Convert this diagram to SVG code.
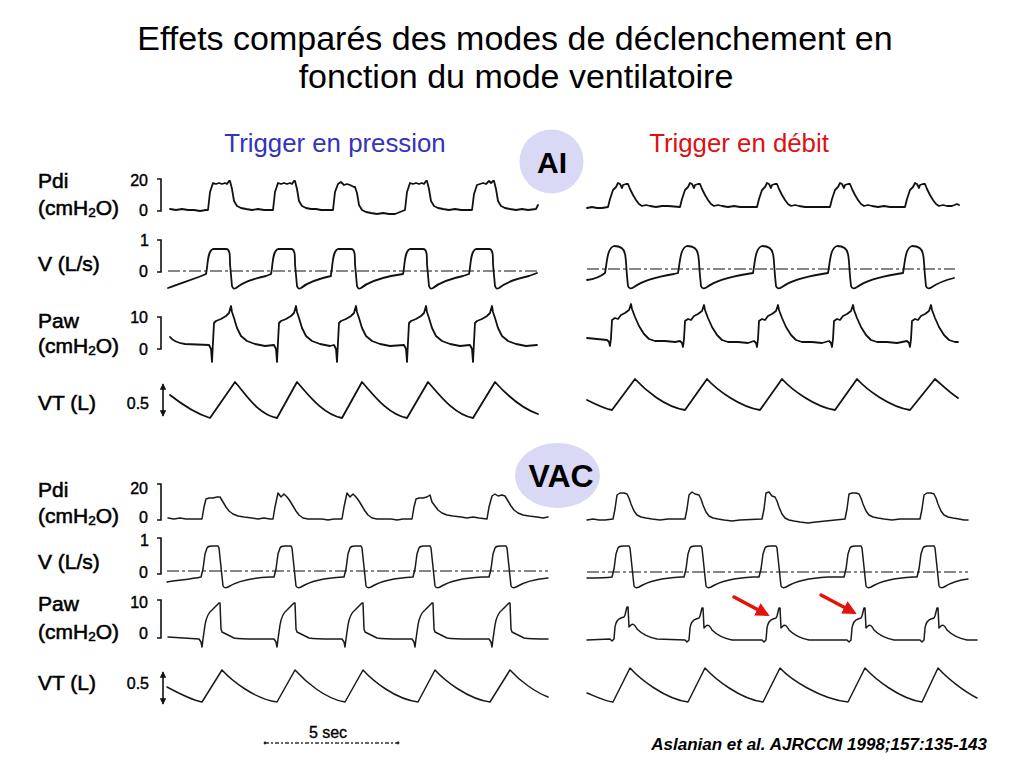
<svg xmlns="http://www.w3.org/2000/svg" width="1024" height="768" viewBox="0 0 1024 768">
<style>
text{font-family:"Liberation Sans",Arial,Helvetica,sans-serif}
.title{font-size:34px;fill:#000;text-anchor:middle}
.hdr{font-size:25.8px;text-anchor:middle}
.lbl{font-size:21px;fill:#000;stroke:#000;stroke-width:0.55}
.sub{font-size:13.5px}
.num{font-size:16px;fill:#000;stroke:#000;stroke-width:0.4;text-anchor:end}
.tr{fill:none;stroke:#111;stroke-width:1.8;stroke-linejoin:round;stroke-linecap:round}
.tr2{fill:none;stroke:#1a1a1a;stroke-width:1.5;stroke-linejoin:round;stroke-linecap:round}
.zl{fill:none;stroke:#111;stroke-width:1.2;stroke-dasharray:12 3 3 3}
.br{fill:none;stroke:#111;stroke-width:1.6}
.badge{fill:#d9d9f6}
.badgeT{font-weight:bold;fill:#000;text-anchor:middle}
</style>
<defs>
<marker id="ah" viewBox="0 0 10 10" refX="9" refY="5" markerWidth="4" markerHeight="4" orient="auto-start-reverse" markerUnits="strokeWidth">
<path d="M0,0 L10,5 L0,10 z" fill="#111"/>
</marker>
<marker id="rah" viewBox="0 0 10 10" refX="7" refY="5" markerWidth="4" markerHeight="4" orient="auto" markerUnits="strokeWidth">
<path d="M0,0 L10,5 L0,10 z" fill="#e3120b"/>
</marker>
</defs>

<g id="title">
<text class="title" x="515" y="50">Effets comparés des modes de déclenchement en</text>
<text class="title" x="516" y="88">fonction du mode ventilatoire</text>
</g>

<g id="headers">
<text class="hdr" x="335" y="152" fill="#3333bb">Trigger en pression</text>
<text class="hdr" x="739" y="152" fill="#dd1111">Trigger en débit</text>
</g>

<g id="labels-ai">
<text class="lbl" x="38" y="188">Pdi</text>
<text class="lbl" x="38" y="215">(cmH<tspan class="sub" dy="2">2</tspan><tspan dy="-2">O)</tspan></text>
<text class="num" x="148" y="186">20</text>
<text class="num" x="148" y="216">0</text>
<path class="br" d="M157,179 h4 v32 h-4"/>
<text class="lbl" x="38" y="271">V (L/s)</text>
<text class="num" x="149" y="246">1</text>
<text class="num" x="148" y="277">0</text>
<path class="br" d="M157,240 h4 v32 h-4"/>
<text class="lbl" x="38" y="328">Paw</text>
<text class="lbl" x="38" y="353">(cmH<tspan class="sub" dy="2">2</tspan><tspan dy="-2">O)</tspan></text>
<text class="num" x="148" y="323">10</text>
<text class="num" x="148" y="355">0</text>
<path class="br" d="M157,317 h4 v32 h-4"/>
<text class="lbl" x="38" y="410">VT (L)</text>
<text class="num" x="149" y="409">0.5</text>
<line class="br" x1="163" y1="384" x2="163" y2="416" marker-start="url(#ah)" marker-end="url(#ah)"/>
</g>

<g id="labels-vac">
<text class="lbl" x="38" y="497">Pdi</text>
<text class="lbl" x="38" y="523">(cmH<tspan class="sub" dy="2">2</tspan><tspan dy="-2">O)</tspan></text>
<text class="num" x="148" y="494">20</text>
<text class="num" x="148" y="523">0</text>
<path class="br" d="M157,484 h4 v36 h-4"/>
<text class="lbl" x="38" y="569">V (L/s)</text>
<text class="num" x="149" y="546">1</text>
<text class="num" x="148" y="578">0</text>
<path class="br" d="M157,538 h4 v36 h-4"/>
<text class="lbl" x="38" y="611">Paw</text>
<text class="lbl" x="38" y="639">(cmH<tspan class="sub" dy="2">2</tspan><tspan dy="-2">O)</tspan></text>
<text class="num" x="148" y="608">10</text>
<text class="num" x="148" y="639">0</text>
<path class="br" d="M157,600 h4 v38 h-4"/>
<text class="lbl" x="38" y="690">VT (L)</text>
<text class="num" x="149" y="689">0.5</text>
<line class="br" x1="163" y1="672" x2="163" y2="704" marker-start="url(#ah)" marker-end="url(#ah)"/>
</g>

<g id="traces-ai-pression">
<path class="tr" d="M170,209 l6,1 l6,-1 l6,1 l6,0 l6,1 l6,-1 L208,210 l2,-18 l3,-9 l3,1 l3,-1 l3,1 l3,-1 l2,1 l2,-3 l1,0 l2,8 l2,12 l3,5 l4,2 l5,1 l6,1 l6,-1 l6,1 L273,210 l2,-18 l3,-9 l3,1 l3,-1 l3,1 l3,-1 l2,1 l2,-3 l1,0 l2,8 l2,12 l3,5 l4,2 l5,1 l5,0 l5,1 L333,210 l2,-18 l3,-8 l3,-2 l3,3 l3,-1 l3,1 l2,1 l2,1 l1,0 l2,6 l2,12 l3,5 l4,2 l5,1 l6,1 l6,-1 l6,1 l6,0 L405,210 l2,-18 l3,-9 l3,1 l3,-1 l3,1 l3,-1 l2,1 l2,-3 l1,0 l2,8 l2,12 l3,5 l4,2 l5,1 l6,1 l6,-1 l6,1 L472,210 l2,-16 l3,-9 l3,-1 l3,-1 l3,1 l3,-3 l2,2 l2,-2 l1,0 l2,8 l2,12 l3,5 l4,2 l5,1 l6,1 l6,-1 l6,1 L536,209 l2,-4"/>
<path class="zl" d="M168,271 H537"/>
<path class="tr" d="M168,288 C180,283 195,279 206,274 c2,-8 1,-23 7,-25 l13,0 c4,0 4,6 4,15 l2,22 c1,3 2,3 4,2 c6,-5 16,-9 30,-12 L271,274 c2,-8 1,-23 7,-25 l13,0 c4,0 4,6 4,15 l2,22 c1,3 2,3 4,2 c6,-5 16,-9 30,-12 L331,274 c2,-8 1,-23 7,-25 l13,0 c4,0 4,6 4,15 l2,22 c1,3 2,3 4,2 c6,-5 16,-9 30,-12 L403,274 c2,-8 1,-23 7,-25 l13,0 c4,0 4,6 4,15 l2,22 c1,3 2,3 4,2 c6,-5 16,-9 30,-12 L469,274 c2,-8 1,-23 7,-25 l13,0 c4,0 4,6 4,15 l2,22 c1,3 2,3 4,2 c6,-5 16,-9 30,-12 L537,273"/>
<path class="tr" d="M170,337 c3,4 8,6 15,7 L209,345 l2,4 l1,13 l1,-20 l1,-19 l2,-2 l5,-2 l5,-3 l3,-3 l2,-7 l1,6 l2,6 l3,10 l4,8 l6,5 l8,3 l10,2 L274,345 l2,4 l1,13 l1,-20 l1,-19 l2,-2 l5,-2 l5,-3 l3,-3 l2,-7 l1,6 l2,6 l3,10 l4,8 l6,5 l8,3 l10,2 L334,345 l2,4 l1,13 l1,-20 l1,-19 l2,-2 l5,-2 l5,-3 l3,-3 l2,-7 l1,6 l2,6 l3,10 l4,8 l6,5 l8,3 l10,2 L404,345 l2,4 l1,13 l1,-20 l1,-19 l2,-2 l5,-2 l5,-3 l3,-3 l2,-7 l1,6 l2,6 l3,10 l4,8 l6,5 l8,3 l10,2 L470,345 l2,4 l1,13 l1,-20 l1,-19 l2,-2 l5,-2 l5,-3 l3,-3 l2,-7 l1,6 l2,6 l3,10 l4,8 l6,5 l8,3 l10,2 L537,345"/>
<path class="tr" d="M170,395 C184,406 197,414 210,418 L235,382 C245,393 257,414 277,418 L297,382 C307,393 322,414 342,418 L362,382 C372,393 387,414 407,418 L428,382 C438,393 453,414 473,418 L495,382 C505,393 520,408 538,414"/>
</g>

<g id="traces-ai-debit">
<path class="tr" d="M587,208 l5,-1 l5,1 l5,0 L608,207 l2,-8 l3,-9 l3,-3 l2,-4 l2,1 l2,4 l1,-3 l3,-1 l2,0 l2,5 l3,6 l3,5 l3,4 l3,2 l4,-1 l4,1 l6,1 l6,-1 l6,0 L680,207 l2,-8 l3,-9 l3,-3 l2,-4 l2,1 l2,4 l1,-3 l3,-1 l2,0 l2,5 l3,6 l3,5 l3,4 l3,2 l4,-1 l4,1 l6,1 l6,-1 l6,1 L757,207 l2,-8 l3,-9 l3,-3 l2,-4 l2,1 l2,4 l1,-3 l3,-1 l2,0 l2,5 l3,6 l3,5 l3,4 l3,2 l4,-1 l4,1 l6,1 l6,0 L830,207 l2,-8 l3,-9 l3,-3 l2,-4 l2,1 l2,4 l1,-3 l3,-1 l2,0 l2,5 l3,6 l3,5 l3,4 l3,2 l4,-1 l4,1 l6,1 l6,-1 l6,1 L905,207 l2,-8 l3,-9 l3,-3 l2,-4 l2,1 l2,4 l1,-3 l3,-1 l2,0 l2,5 l3,6 l3,5 l3,4 l3,2 l4,-1 l4,1 l5,0 l5,-2 l2,1"/>
<path class="zl" d="M587,269 H955"/>
<path class="tr" d="M587,280 C595,279 600,277 605,273 c2,-10 2,-25 9,-27 c6,0 10,2 11,8 c1,4 1,10 2,22 l1,10 c1,3 3,3 6,1 c8,-6 22,-10 40,-13 L678,273 c2,-10 2,-25 9,-27 c6,0 10,2 11,8 c1,4 1,10 2,22 l1,10 c1,3 3,3 6,1 c8,-6 22,-10 40,-13 L753,273 c2,-10 2,-25 9,-27 c6,0 10,2 11,8 c1,4 1,10 2,22 l1,10 c1,3 3,3 6,1 c8,-6 22,-10 40,-13 L828,273 c2,-10 2,-25 9,-27 c6,0 10,2 11,8 c1,4 1,10 2,22 l1,10 c1,3 3,3 6,1 c8,-6 22,-10 40,-13 L903,273 c2,-10 2,-25 9,-27 c6,0 10,2 11,8 c1,4 1,10 2,22 l1,10 c1,3 3,3 6,1 c6,-4 14,-7 22,-9"/>
<path class="tr" d="M587,338 L607,340 l2,2 l1,4 l1,-8 l1,-18 l3,-2 l3,1 l3,-4 l4,-2 l4,-3 l2,-6 l1,5 l3,8 l4,9 l5,8 l5,5 l6,2 l10,0 l10,1 L680,341 l2,2 l1,4 l1,-8 l1,-18 l3,-2 l3,1 l3,-4 l4,-2 l4,-3 l2,-6 l1,5 l3,8 l4,9 l5,8 l5,5 l6,2 l10,0 l10,1 L754,341 l2,2 l1,4 l1,-8 l1,-18 l3,-2 l3,1 l3,-4 l4,-2 l4,-3 l2,-6 l1,5 l3,8 l4,9 l5,8 l5,5 l6,2 l10,0 l10,1 L829,341 l2,2 l1,4 l1,-8 l1,-18 l3,-2 l3,1 l3,-4 l4,-2 l4,-3 l2,-6 l1,5 l3,8 l4,9 l5,8 l5,5 l6,2 l10,0 l10,1 L907,341 l2,2 l1,4 l1,-8 l1,-18 l3,-2 l3,1 l3,-4 l4,-2 l4,-3 l2,-6 l1,5 l3,8 l4,9 l5,8 l5,5 l6,2 l3,0"/>
<path class="tr" d="M587,400 C597,405 605,409 612,410 L635,379 C645,390 665,407 685,410 L707,379 C717,390 740,407 760,410 L782,379 C792,390 815,407 835,410 L857,379 C867,390 890,407 910,410 L935,379 C943,386 950,393 958,398"/>
</g>

<g id="traces-vac-pression">
<path class="tr2" d="M168,518 l6,1 l6,-1 l6,1 l6,0 L202,519 l2,-12 l2,-8 l3,-1 l4,0 l4,-1 l3,0 l3,5 l3,5 l3,4 l4,3 l5,2 l6,1 l8,1 l6,1 l6,-1 l6,1 L273,519 l2,-12 l3,-14 l3,4 l3,-3 l3,3 l3,4 l3,5 l3,5 l3,4 l4,3 l5,1 l6,0 l8,0 l6,1 l6,-1 L342,519 l2,-12 l3,-14 l3,4 l3,-3 l3,3 l3,4 l3,5 l3,5 l3,4 l4,3 l5,1 l6,0 l8,0 l6,1 l6,-1 L412,519 l2,-12 l2,-8 l3,-1 l4,0 l4,-1 l3,-2 l2,7 l3,4 l3,4 l4,3 l5,2 l6,1 l8,1 l6,1 l6,-1 l6,1 L487,519 l2,-12 l3,-11 l3,-2 l3,2 l4,-1 l3,1 l3,5 l3,5 l3,4 l4,3 l5,2 l6,1 l8,1 l6,1 l5,-1"/>
<path class="zl" d="M167,571 H548"/>
<path class="tr2" d="M167,582 C180,580 192,579 201,577 l2,-8 l2,-15 l2,-6 c1,-2 3,-2 5,-2 l6,0 l1,2 l4,38 c1,2 3,2 5,1 c8,-5 22,-9 42,-10 L274,577 l2,-8 l2,-15 l2,-6 c1,-2 3,-2 5,-2 l6,0 l1,2 l4,38 c1,2 3,2 5,1 c8,-5 22,-9 42,-10 L344,577 l2,-8 l2,-15 l2,-6 c1,-2 3,-2 5,-2 l6,0 l1,2 l4,38 c1,2 3,2 5,1 c8,-5 22,-9 42,-10 L413,577 l2,-8 l2,-15 l2,-6 c1,-2 3,-2 5,-2 l6,0 l1,2 l4,38 c1,2 3,2 5,1 c8,-5 22,-9 42,-10 L489,577 l2,-8 l2,-15 l2,-6 c1,-2 3,-2 5,-2 l6,0 l1,2 l4,38 c1,2 3,2 5,1 c8,-5 20,-8 32,-9"/>
<path class="tr2" d="M168,637 L199,639 l2,3 l1,5 l1,-8 l2,-14 c1,-6 3,-12 7,-15 l5,-5 l2,-2 l1,0 l1,26 l1,3 c4,2 8,4 12,6 c6,1 12,1 24,1 L274,639 l2,3 l1,5 l1,-8 l2,-14 c1,-6 3,-12 7,-15 l5,-5 l2,-2 l1,0 l1,26 l1,3 c4,2 8,4 12,6 c6,1 12,1 24,1 L342,639 l2,3 l1,5 l1,-8 l2,-14 c1,-6 3,-12 7,-15 l5,-5 l2,-2 l1,0 l1,26 l1,3 c4,2 8,4 12,6 c6,1 12,1 24,1 L412,639 l2,3 l1,5 l1,-8 l2,-14 c1,-6 3,-12 7,-15 l5,-5 l2,-2 l1,0 l1,26 l1,3 c4,2 8,4 12,6 c6,1 12,1 24,1 L489,639 l2,3 l1,5 l1,-8 l2,-14 c1,-6 3,-12 7,-15 l5,-5 l2,-2 l1,0 l1,26 l1,3 c4,2 8,4 12,6 c6,1 12,1 24,1"/>
<path class="tr2" d="M167,687 C180,694 192,700 202,702 L222,670 C232,681 255,699 277,702 L295,670 C305,681 325,699 345,702 L363,670 C373,681 395,699 418,702 L435,670 C445,681 468,699 490,702 L510,670 C520,681 535,692 548,697"/>
</g>

<g id="traces-vac-debit">
<path class="tr2" d="M587,520 l6,-1 l6,1 l6,0 L613,519 l2,-10 l2,-14 l3,-2 l4,0 l3,1 l2,4 l2,6 l3,7 l3,4 l4,2 l5,1 l6,1 l8,1 l8,-1 L685,519 l2,-10 l2,-14 l3,-3 l3,2 l4,1 l2,4 l2,6 l3,7 l3,4 l4,2 l5,1 l6,1 l8,1 l8,-1 L762,519 l2,-10 l2,-16 l3,-1 l3,4 l3,1 l2,4 l2,6 l3,7 l3,4 l4,2 l5,1 l6,1 l8,1 l8,-1 L845,519 l2,-10 l2,-15 l3,-1 l4,0 l3,1 l2,4 l2,6 l3,7 l3,4 l4,2 l5,1 l6,1 l8,1 l8,-1 L920,519 l2,-10 l2,-14 l3,-2 l4,0 l3,1 l2,4 l2,6 l3,7 l3,4 l4,2 l5,1 l6,1 l5,1 l4,0"/>
<path class="zl" d="M587,572 H968"/>
<path class="tr2" d="M587,578 C597,578 605,578 612,577 l2,-8 l2,-15 l2,-6 c1,-2 3,-2 5,-2 l6,0 l1,2 l4,38 c1,2 3,2 5,1 c8,-5 22,-9 42,-10 L684,577 l2,-8 l2,-15 l2,-6 c1,-2 3,-2 5,-2 l6,0 l1,2 l4,38 c1,2 3,2 5,1 c8,-5 22,-9 42,-10 L759,577 l2,-8 l2,-15 l2,-6 c1,-2 3,-2 5,-2 l6,0 l1,2 l4,38 c1,2 3,2 5,1 c8,-5 22,-9 42,-10 L844,577 l2,-8 l2,-15 l2,-6 c1,-2 3,-2 5,-2 l6,0 l1,2 l4,38 c1,2 3,2 5,1 c8,-5 22,-9 42,-10 L917,577 l2,-8 l2,-15 l2,-6 c1,-2 3,-2 5,-2 l6,0 l1,2 l4,38 c1,2 3,2 5,1 c8,-5 14,-7 24,-8"/>
<path class="tr2" d="M587,640 L610,639 l2,2 l2,-2 l1,-12 c1,-6 3,-8 6,-9 l3,-1 l1,-2 l2,-8 l1,0 l1,20 l2,-2 c2,-2 4,0 6,4 c4,4 10,8 20,10 L685,640 l2,2 l2,-2 l1,-12 c1,-6 3,-8 6,-9 l3,-1 l1,-2 l2,-8 l1,0 l1,20 l2,-2 c2,-2 4,0 6,4 c4,4 10,8 20,10 L762,640 l2,2 l2,-2 l1,-12 c1,-6 3,-8 6,-9 l3,-1 l1,-2 l2,-8 l1,0 l1,20 l2,-2 c2,-2 4,0 6,4 c4,4 10,8 20,10 L847,640 l2,2 l2,-2 l1,-12 c1,-6 3,-8 6,-9 l3,-1 l1,-2 l2,-8 l1,0 l1,20 l2,-2 c2,-2 4,0 6,4 c4,4 10,8 20,10 L920,640 l2,2 l2,-2 l1,-12 c1,-6 3,-8 6,-9 l3,-1 l1,-2 l2,-8 l1,0 l1,20 l2,-2 c2,-2 4,0 6,4 c4,4 10,8 20,10 L977,640"/>
<path class="tr2" d="M587,693 C597,697 605,701 613,702 L630,668 C640,679 665,699 688,702 L705,668 C715,679 740,699 763,702 L780,668 C790,679 820,699 848,702 L865,668 C875,679 900,699 922,702 L938,668 C948,679 965,692 977,698"/>
</g>

<g id="badge-ai">
<circle class="badge" cx="551.5" cy="161.5" r="32"/>
<text class="badgeT" x="552" y="173" font-size="30">AI</text>
</g>
<g id="badge-vac">
<ellipse class="badge" cx="557.5" cy="475.5" rx="42.5" ry="32.5"/>
<text class="badgeT" x="561" y="487" font-size="32">VAC</text>
</g>

<g id="red-arrows">
<line x1="734" y1="597" x2="766" y2="614" stroke="#e3120b" stroke-width="3.5" stroke-linecap="round" marker-end="url(#rah)"/>
<line x1="821" y1="595" x2="853" y2="612" stroke="#e3120b" stroke-width="3.5" stroke-linecap="round" marker-end="url(#rah)"/>
</g>

<g id="scale">
<text x="328" y="738" font-size="16" text-anchor="middle" fill="#000" stroke="#000" stroke-width="0.35">5 sec</text>
<line x1="265" y1="743" x2="398" y2="743" stroke="#333" stroke-width="1.3" stroke-dasharray="4 2 2 2"/>
<circle cx="265" cy="743" r="1.4" fill="#222"/>
<circle cx="398" cy="743" r="1.4" fill="#222"/>
</g>

<text id="citation" x="987" y="750" font-size="17" font-weight="bold" font-style="italic" text-anchor="end" fill="#000">Aslanian et al. AJRCCM 1998;157:135-143</text>
</svg>
